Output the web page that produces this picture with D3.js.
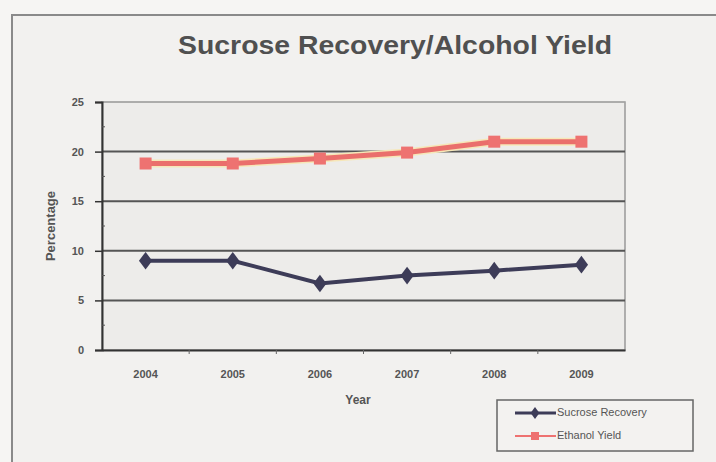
<!DOCTYPE html>
<html>
<head>
<meta charset="utf-8">
<script src="https://cdn.jsdelivr.net/npm/d3@7"></script>
<style>
  body { margin: 0; background: #f6f5f3; }
  text { font-family: "Liberation Sans", Arial, sans-serif; }
</style>
</head>
<body>
<div id="chart"></div>
<script>
// data
var years = ["2004", "2005", "2006", "2007", "2008", "2009"]
var sucrose = [9.0, 9.0, 6.7, 7.5, 8.0, 8.6]
var ethanol = [18.8, 18.8, 19.3, 19.9, 21.0, 21.0]
var yTicks = [0, 5, 10, 15, 20, 25]
var seriesNames = ["Sucrose Recovery", "Ethanol Yield"]

var width = 716, height = 462
var plot = {left: 102, right: 625, top: 102, bottom: 350}

var svg = d3.select("#chart")
    .append("svg")
    .attr("width", width)
    .attr("height", height)

// outer chart box
svg.append("rect")
    .attr("x", 12).attr("y", 15)
    .attr("width", 720).attr("height", 470)
    .style("fill", "#f2f1ef")
    .style("stroke", "#8a8a8a")
    .style("stroke-width", 2)

// plot background
svg.append("rect")
    .attr("x", plot.left).attr("y", plot.top)
    .attr("width", plot.right - plot.left).attr("height", plot.bottom - plot.top)
    .style("fill", "#edecea")
    .style("stroke", "#999")
    .style("stroke-width", 1.5)

// title
svg.append("text")
    .attr("x", 395).attr("y", 54)
    .attr("text-anchor", "middle")
    .attr("textLength", 434)
    .attr("lengthAdjust", "spacingAndGlyphs")
    .style("font-size", "26px")
    .style("font-weight", "bold")
    .style("fill", "#505050")
    .text("Sucrose Recovery/Alcohol Yield")

var x = d3.scaleBand()
    .domain(years)
    .range([plot.left, plot.right])

var y = d3.scaleLinear()
    .domain([0, 25])
    .range([plot.bottom, plot.top])

// gridlines
svg.append("g")
    .selectAll("line")
    .data(yTicks.slice(1))
    .enter().append("line")
        .attr("x1", plot.left).attr("x2", plot.right)
        .attr("y1", function(d) { return y(d) })
        .attr("y2", function(d) { return y(d) })
        .style("stroke", function(d) { return d == 25 ? "#aaa" : "#555" })
        .style("stroke-width", function(d) { return d == 25 ? 1 : 2 })

// y axis
var yAxis = svg.append("g")
    .attr("transform", `translate(${plot.left},0)`)
    .call(d3.axisLeft(y).tickValues(yTicks).tickSize(7).tickPadding(7))
yAxis.select(".domain").style("stroke", "#333").style("stroke-width", 2)
yAxis.selectAll(".tick line").style("stroke", "#333").style("stroke-width", 1.5)
yAxis.selectAll("text")
    .style("font-size", "11px").style("font-weight", "bold").style("fill", "#555")
    .attr("dx", -4)

// minor ticks
svg.append("g")
    .selectAll("line")
    .data([2.5, 7.5, 12.5, 17.5, 22.5])
    .enter().append("line")
        .attr("x1", plot.left).attr("x2", plot.left + 3)
        .attr("y1", function(d) { return y(d) })
        .attr("y2", function(d) { return y(d) })
        .style("stroke", "#555")

// x axis
var xAxis = svg.append("g")
    .attr("transform", `translate(0,${plot.bottom})`)
    .call(d3.axisBottom(x).tickSize(0).tickPadding(20))
xAxis.select(".domain").style("stroke", "#333").style("stroke-width", 2)
xAxis.selectAll("text")
    .style("font-size", "11px").style("font-weight", "bold").style("fill", "#555")

// x tick marks between categories
svg.append("g")
    .selectAll("line")
    .data(years.slice(1))
    .enter().append("line")
        .attr("x1", function(d) { return x(d) })
        .attr("x2", function(d) { return x(d) })
        .attr("y1", plot.bottom).attr("y2", plot.bottom + 4)
        .style("stroke", "#666")

// axis titles
svg.append("text")
    .attr("x", 358).attr("y", 404)
    .attr("text-anchor", "middle")
    .style("font-size", "12px").style("font-weight", "bold").style("fill", "#555")
    .text("Year")

svg.append("text")
    .attr("transform", `translate(55,226) rotate(-90)`)
    .attr("text-anchor", "middle")
    .style("font-size", "13px").style("font-weight", "bold").style("fill", "#555")
    .text("Percentage")

// lines
var line = d3.line()
    .x(function(d, i) { return x(years[i]) + x.bandwidth() / 2 })
    .y(function(d) { return y(d) })

svg.append("path")
    .datum(ethanol)
    .attr("d", line)
    .style("fill", "none")
    .style("stroke", "#f6e7b8")
    .style("stroke-width", 8)
svg.append("path")
    .datum(ethanol)
    .attr("d", line)
    .style("fill", "none")
    .style("stroke", "#ea6f6c")
    .style("stroke-width", 5)

svg.append("g")
    .selectAll("rect")
    .data(ethanol)
    .enter().append("rect")
        .attr("x", function(d, i) { return x(years[i]) + x.bandwidth() / 2 - 6 })
        .attr("y", function(d) { return y(d) - 6 })
        .attr("width", 12).attr("height", 12)
        .style("fill", "#ee7271")

svg.append("path")
    .datum(sucrose)
    .attr("d", line)
    .style("fill", "none")
    .style("stroke", "#3d3c58")
    .style("stroke-width", 4)

svg.append("g")
    .selectAll("path")
    .data(sucrose)
    .enter().append("path")
        .attr("d", d3.symbol().type(d3.symbolDiamond).size(90))
        .attr("transform", function(d, i) { return `translate(${x(years[i]) + x.bandwidth() / 2},${y(d)}) scale(1.3,1)` })
        .style("fill", "#3d3c58")

// legend
var legend = svg.append("g")
legend.append("rect")
    .attr("x", 497).attr("y", 400)
    .attr("width", 196).attr("height", 51)
    .style("fill", "#f3f2f0")
    .style("stroke", "#666")
    .style("stroke-width", 1.5)

legend.append("line")
    .attr("x1", 515).attr("x2", 556).attr("y1", 413).attr("y2", 413)
    .style("stroke", "#3d3c58").style("stroke-width", 3)
legend.append("path")
    .attr("d", d3.symbol().type(d3.symbolDiamond).size(40))
    .attr("transform", "translate(535,413) scale(1.3,1)")
    .style("fill", "#3d3c58")
legend.append("text")
    .attr("x", 557).attr("y", 413)
    .attr("dominant-baseline", "middle")
    .style("font-size", "11px").style("fill", "#555")
    .text(seriesNames[0])

legend.append("line")
    .attr("x1", 515).attr("x2", 556).attr("y1", 436).attr("y2", 436)
    .style("stroke", "#ee7271").style("stroke-width", 2)
legend.append("rect")
    .attr("x", 531).attr("y", 432).attr("width", 8).attr("height", 8)
    .style("fill", "#ee7271")
legend.append("text")
    .attr("x", 557).attr("y", 436)
    .attr("dominant-baseline", "middle")
    .style("font-size", "11px").style("fill", "#555")
    .text(seriesNames[1])
</script>
</body>
</html>
